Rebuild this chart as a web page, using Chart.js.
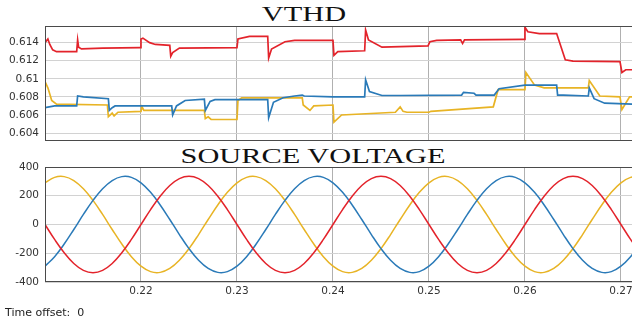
<!DOCTYPE html>
<html lang="en">
<head>
<meta charset="UTF-8">
<title>VTHD and Source Voltage</title>
<script src="https://cdn.jsdelivr.net/npm/chart.js"></script>
<style>
  body { margin: 0; width: 632px; height: 320px; overflow: hidden; background: #fff; position: relative; font-family: "DejaVu Sans", sans-serif; }
  canvas { position: absolute; left: 0; }
  #thdChart { top: 0; }
  #voltChart { top: 145px; }
  .title { position: absolute; font-family: "Liberation Serif", serif; font-size: 22px; line-height: 1; color: #111; white-space: nowrap; transform: translateX(-50%) scaleX(1.38); }
  #offset { position: absolute; left: 5px; top: 306px; font-size: 11px; color: #222; white-space: pre; }
</style>
</head>
<body>
<div class="title" style="left:304px; top:3px;">VTHD</div>
<div class="title" style="left:313px; top:145px;">SOURCE VOLTAGE</div>
<canvas id="thdChart" width="632" height="145"></canvas>
<canvas id="voltChart" width="632" height="175"></canvas>
<div id="offset">Time offset:  0</div>

<script>
// axis ticks
const timeTicks = [0.22, 0.23, 0.24, 0.25, 0.26, 0.27];
const vthdTicks = [0.604, 0.606, 0.608, 0.61, 0.612, 0.614];
const voltTicks = [-400, -200, 0, 200, 400];

// VTHD traces (time, value)
const redTime = [0.2100, 0.2103, 0.2105, 0.2108, 0.2112, 0.2133, 0.2134, 0.2135, 0.2138, 0.2160, 0.2199,
  0.2200, 0.2202, 0.2209, 0.2215, 0.2230, 0.2231, 0.2233, 0.2240, 0.2300, 0.2301, 0.2313, 0.2332, 0.2333,
  0.2336, 0.2350, 0.2360, 0.2400, 0.2401, 0.2405, 0.2433, 0.2434, 0.2437, 0.2451, 0.2499, 0.2501, 0.2508,
  0.2533, 0.2535, 0.2537, 0.2599, 0.2600, 0.2603, 0.2615, 0.2633, 0.2642, 0.2650, 0.2699, 0.2701, 0.2705, 0.2712];
const redVthd = [0.6140, 0.6144, 0.6138, 0.6132, 0.6130, 0.6130, 0.6143, 0.6135, 0.6133, 0.6134, 0.61345,
  0.6144, 0.6145, 0.6140, 0.6138, 0.6137, 0.6125, 0.6129, 0.6134, 0.61345, 0.6144, 0.6147, 0.6147, 0.6123,
  0.6133, 0.6141, 0.61425, 0.61425, 0.6126, 0.6130, 0.6131, 0.6154, 0.6143, 0.6135, 0.61365, 0.6141, 0.61425,
  0.6143, 0.6139, 0.6143, 0.61436, 0.6157, 0.6152, 0.6150, 0.6150, 0.6121, 0.61195, 0.6119, 0.6107, 0.6110, 0.6110];

const blueTime = [0.2100, 0.2110, 0.2133, 0.2134, 0.2140, 0.2166, 0.2167, 0.2170, 0.2173, 0.2232, 0.2233,
  0.2237, 0.2246, 0.2266, 0.2267, 0.2272, 0.2277, 0.2332, 0.2333, 0.2338, 0.2348, 0.2360, 0.2368, 0.2370,
  0.2400, 0.2433, 0.2434, 0.2438, 0.2451, 0.2470, 0.2534, 0.2536, 0.2547, 0.2549, 0.2568, 0.2573, 0.2600,
  0.2633, 0.2634, 0.2640, 0.2666, 0.2667, 0.2672, 0.2683, 0.2712];
const blueVthd = [0.6068, 0.6070, 0.6070, 0.6081, 0.6080, 0.6078, 0.6065, 0.6068, 0.6070, 0.6070, 0.6060,
  0.6070, 0.6076, 0.60775, 0.6065, 0.6075, 0.6077, 0.6077, 0.6057, 0.6074, 0.6079, 0.6081, 0.6082, 0.6081,
  0.6080, 0.6080, 0.6099, 0.6086, 0.60815, 0.60815, 0.6082, 0.6085, 0.6084, 0.6082, 0.6082, 0.6089, 0.6093,
  0.6093, 0.6082, 0.6082, 0.6081, 0.6090, 0.6078, 0.6073, 0.6072];

const yellowTime = [0.2100, 0.2103, 0.2107, 0.2112, 0.2165, 0.2166, 0.2170, 0.2172, 0.2176, 0.2200, 0.2201,
  0.2203, 0.2266, 0.2267, 0.2270, 0.2273, 0.2300, 0.2301, 0.2305, 0.2368, 0.2369, 0.2376, 0.2380, 0.2400,
  0.2401, 0.2409, 0.2465, 0.2470, 0.2473, 0.2477, 0.2500, 0.2502, 0.2567, 0.2572, 0.2600, 0.2601, 0.2610,
  0.2620, 0.2666, 0.2667, 0.2678, 0.2699, 0.2701, 0.2709, 0.2712];
const yellowVthd = [0.6097, 0.6090, 0.6076, 0.6072, 0.6071, 0.6058, 0.6062, 0.6059, 0.6063, 0.6064, 0.6069,
  0.6065, 0.6065, 0.6056, 0.6058, 0.6055, 0.6055, 0.6076, 0.6079, 0.6079, 0.6071, 0.6065, 0.6070, 0.6071,
  0.6052, 0.6060, 0.6063, 0.6069, 0.6064, 0.6063, 0.6063, 0.6064, 0.6069, 0.6088, 0.6088, 0.6107, 0.6093,
  0.6090, 0.6090, 0.6098, 0.6081, 0.6080, 0.6066, 0.6080, 0.6080];

// source voltage, sampled every 1 ms
const voltTime = [0.210, 0.211, 0.212, 0.213, 0.214, 0.215, 0.216, 0.217, 0.218, 0.219,
  0.220, 0.221, 0.222, 0.223, 0.224, 0.225, 0.226, 0.227, 0.228, 0.229,
  0.230, 0.231, 0.232, 0.233, 0.234, 0.235, 0.236, 0.237, 0.238, 0.239,
  0.240, 0.241, 0.242, 0.243, 0.244, 0.245, 0.246, 0.247, 0.248, 0.249,
  0.250, 0.251, 0.252, 0.253, 0.254, 0.255, 0.256, 0.257, 0.258, 0.259,
  0.260, 0.261, 0.262, 0.263, 0.264, 0.265, 0.266, 0.267, 0.268, 0.269,
  0.270, 0.271, 0.272];
const redVolt = [0, -104, -197, -271, -319, -335, -319, -271, -197, -104,
  0, 104, 197, 271, 319, 335, 319, 271, 197, 104,
  0, -104, -197, -271, -319, -335, -319, -271, -197, -104,
  0, 104, 197, 271, 319, 335, 319, 271, 197, 104,
  0, -104, -197, -271, -319, -335, -319, -271, -197, -104,
  0, 104, 197, 271, 319, 335, 319, 271, 197, 104,
  0, -104, -197];
const blueVolt = [-290, -224, -136, -35, 70, 168, 249, 306, 333, 328,
  290, 224, 136, 35, -70, -168, -249, -306, -333, -328,
  -290, -224, -136, -35, 70, 168, 249, 306, 333, 328,
  290, 224, 136, 35, -70, -168, -249, -306, -333, -328,
  -290, -224, -136, -35, 70, 168, 249, 306, 333, 328,
  290, 224, 136, 35, -70, -168, -249, -306, -333, -328,
  -290, -224, -136];
const yellowVolt = [290, 328, 333, 306, 249, 168, 70, -35, -136, -224,
  -290, -328, -333, -306, -249, -168, -70, 35, 136, 224,
  290, 328, 333, 306, 249, 168, 70, -35, -136, -224,
  -290, -328, -333, -306, -249, -168, -70, 35, 136, 224,
  290, 328, 333, 306, 249, 168, 70, -35, -136, -224,
  -290, -328, -333, -306, -249, -168, -70, 35, 136, 224,
  290, 328, 333];

const RED = '#e3232b';
const BLUE = '#2a7ab8';
const YELLOW = '#e8b425';

function pts(xs, ys) {
  return xs.map((x, i) => ({ x: x, y: ys[i] }));
}

// draws the box round the plot area
const frame = {
  id: 'frame',
  afterDraw(chart) {
    const a = chart.chartArea, ctx = chart.ctx;
    ctx.save();
    ctx.strokeStyle = '#4a4a4a';
    ctx.lineWidth = 1;
    ctx.strokeRect(a.left + 0.5, a.top + 0.5, a.right - a.left, a.bottom - a.top - 1);
    ctx.restore();
  }
};

const tickFont = { family: 'DejaVu Sans', size: 10.5 };

function timeAxis(showLabels, height) {
  return {
    type: 'linear',
    min: 0.21,
    max: 0.27115,
    afterBuildTicks: axis => { axis.ticks = timeTicks.map(v => ({ value: v })); },
    afterFit: axis => { axis.height = height; axis.paddingLeft = 0; axis.paddingRight = 0; },
    border: { display: false },
    grid: { color: '#b0b0b0', drawTicks: false },
    ticks: { display: showLabels, autoSkip: false, maxRotation: 0, padding: 3, color: '#333', font: tickFont,
      callback: v => String(+v.toFixed(2)) }
  };
}

function valueAxis(min, max, ticks, digits) {
  return {
    min: min,
    max: max,
    afterBuildTicks: axis => { axis.ticks = ticks.map(v => ({ value: v })); },
    afterFit: axis => { axis.width = 45; axis.paddingTop = 0; axis.paddingBottom = 0; },
    border: { display: false },
    grid: { color: '#d2d2d2', drawTicks: false },
    ticks: { autoSkip: false, padding: 6, color: '#333', font: tickFont,
      callback: v => String(+v.toFixed(digits)) }
  };
}

const common = {
  responsive: false,
  animation: false,
  events: [],
  plugins: { legend: { display: false }, tooltip: { enabled: false } },
  elements: { point: { radius: 0 } }
};

new Chart(document.getElementById('thdChart'), {
  type: 'line',
  data: {
    datasets: [
      { data: pts(redTime, redVthd), borderColor: RED, borderWidth: 1.7, tension: 0 },
      { data: pts(blueTime, blueVthd), borderColor: BLUE, borderWidth: 1.7, tension: 0 },
      { data: pts(yellowTime, yellowVthd), borderColor: YELLOW, borderWidth: 1.7, tension: 0 }
    ]
  },
  options: Object.assign({}, common, {
    layout: { padding: { top: 26, left: 0, right: 0, bottom: 0 } },
    scales: {
      x: timeAxis(false, 4),
      y: valueAxis(0.60312, 0.61584, vthdTicks, 3)
    }
  }),
  plugins: [frame]
});

new Chart(document.getElementById('voltChart'), {
  type: 'line',
  data: {
    datasets: [
      { data: pts(voltTime, redVolt), borderColor: RED, borderWidth: 1.5, tension: 0.4 },
      { data: pts(voltTime, blueVolt), borderColor: BLUE, borderWidth: 1.5, tension: 0.4 },
      { data: pts(voltTime, yellowVolt), borderColor: YELLOW, borderWidth: 1.5, tension: 0.4 }
    ]
  },
  options: Object.assign({}, common, {
    layout: { padding: { top: 22, left: 0, right: 0, bottom: 0 } },
    scales: {
      x: timeAxis(true, 38),
      y: valueAxis(-400, 400, voltTicks, 0)
    }
  }),
  plugins: [frame]
});
</script>
</body>
</html>
